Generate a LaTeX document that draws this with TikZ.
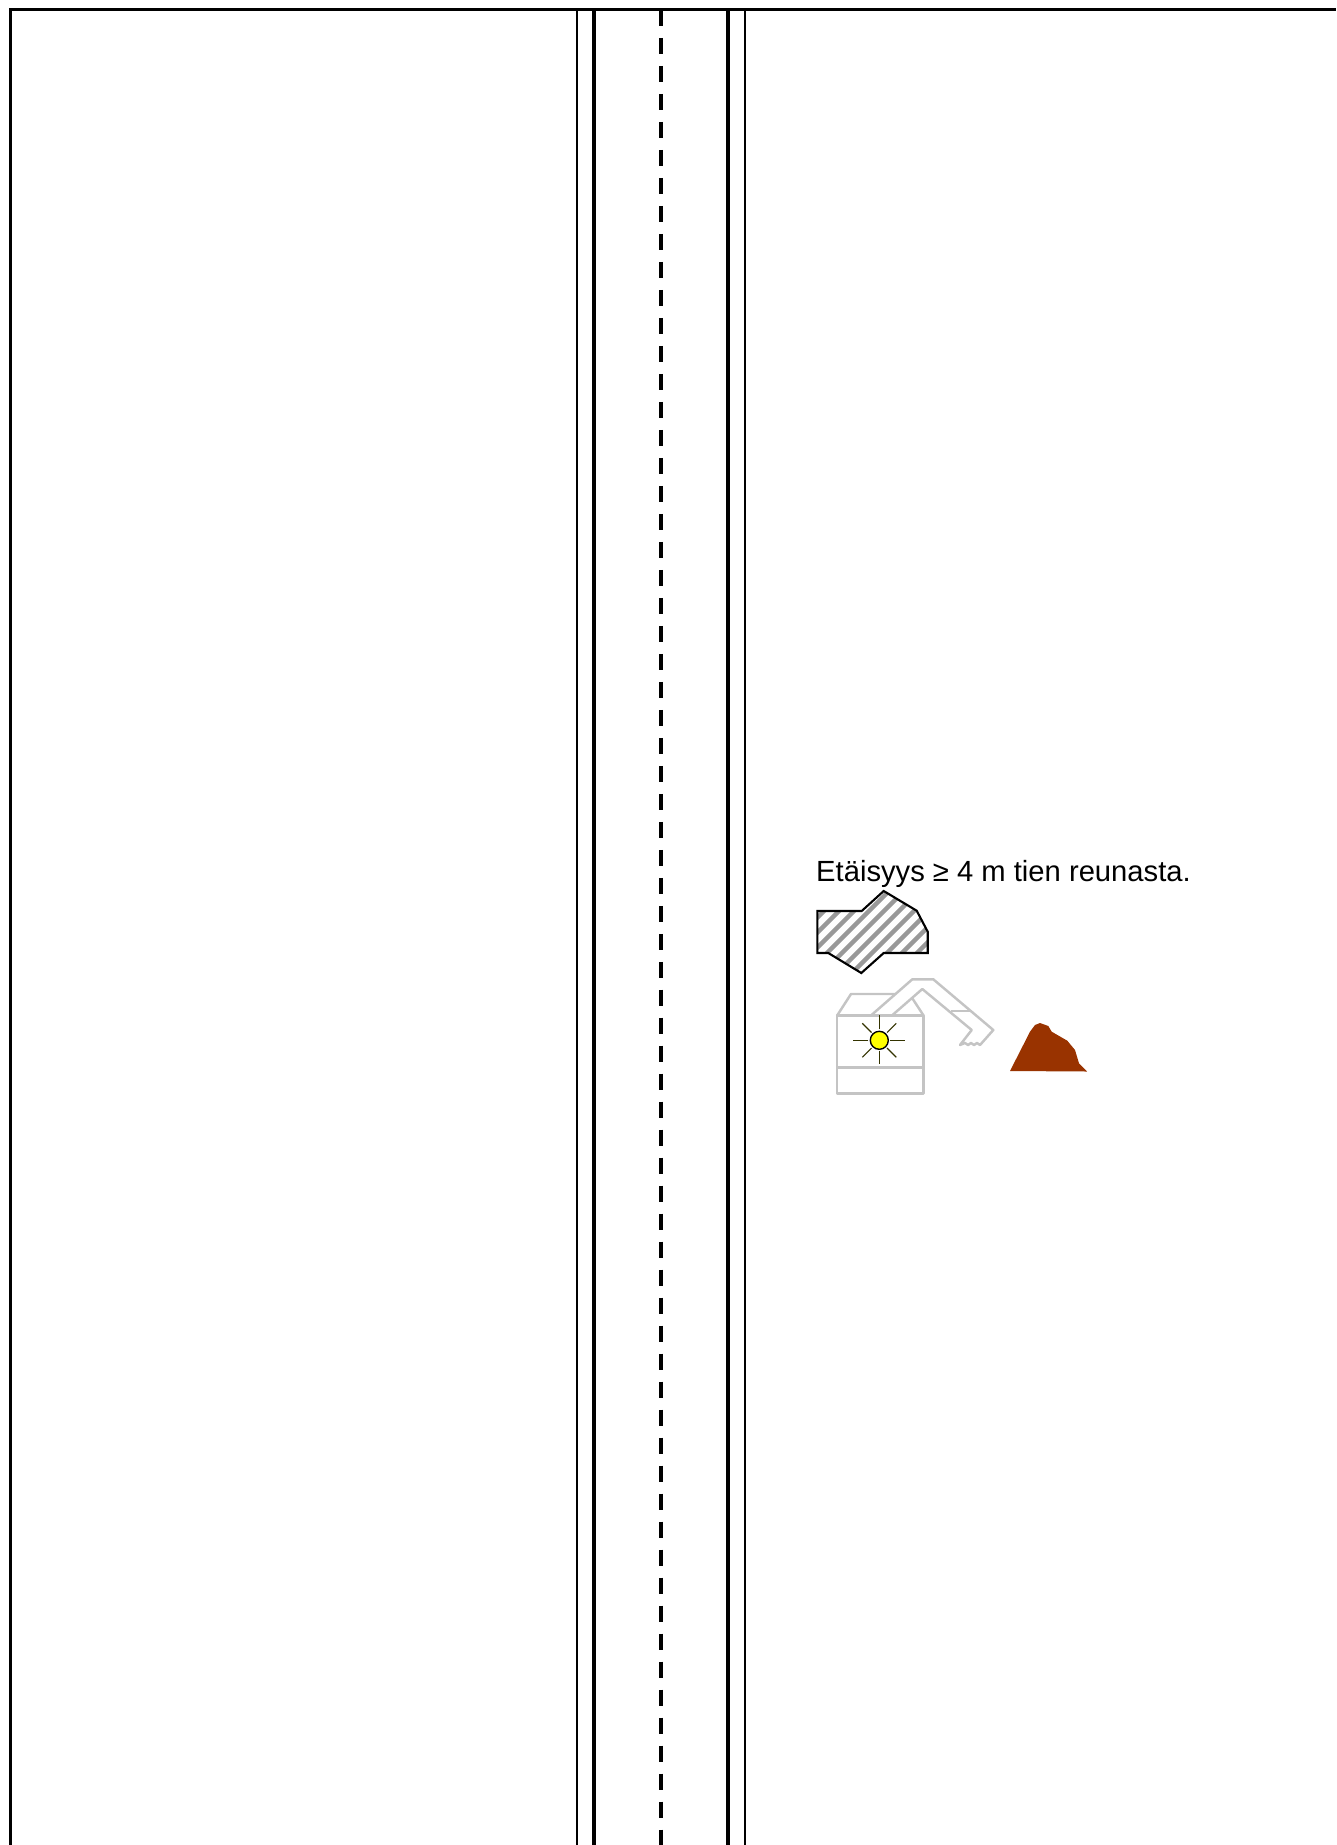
\documentclass[tikz,border=0pt]{standalone}
\usepackage{fontspec}
\setmainfont{Liberation Sans}
\definecolor{rdblack}{HTML}{000000}
\definecolor{hatchgray}{HTML}{999999}
\definecolor{machgray}{HTML}{C4C4C4}
\definecolor{sunyellow}{HTML}{FFFF00}
\definecolor{moundbrown}{HTML}{993300}

\begin{document}
\begin{tikzpicture}[
      x=0.01cm, y=-0.01cm,
      frameline/.style={draw=rdblack, line width=0.6pt},
      thinroad/.style={draw=rdblack, line width=0.55pt},
      thickroad/.style={draw=rdblack, line width=1.05pt},
      midline/.style={draw=rdblack, line width=1.15pt, dash pattern=on 4.55pt off 3.41pt},
      mach/.style={draw=machgray, line width=0.7pt, line join=round},
      ray/.style={draw=black!80!sunyellow, line width=0.35pt},
      distlbl/.style={anchor=base west, inner sep=0pt, font=\fontsize{8.3pt}{10pt}\selectfont}
    ]
    \useasboundingbox (0,0) rectangle (1336,1845);
    % ------------- Road -------------
    \draw[frameline] (10.5,1845) -- (10.5,9.5) -- (1336,9.5);
    \draw[thinroad] (577.3,9.5) -- (577.3,1845);
    \draw[thickroad] (594.3,9.5) -- (594.3,1845);
    \draw[midline] (661,10) -- (661,1845);
    \draw[thickroad] (727.7,9.5) -- (727.7,1845);
    \draw[thinroad] (744.6,9.5) -- (744.6,1845);
    % ------------- Text -------------
    \node[distlbl] (etaisyys) at (815.5,881) {Etäisyys ≥ 4 m tien reunasta.};
    % ------------- Hatched patch -------------
    \begin{scope}
      \clip (817.3,911) -- (861.7,911) -- (883.7,891) -- (916.7,910.7) -- (927.7,931.7)
        -- (927.7,953) -- (883.7,953) -- (861.3,973) -- (828.3,953) -- (817.3,953) -- cycle;
      \foreach \k in {-2,...,10}
        \draw[draw=hatchgray, line width=1.25pt] (770+15*\k,980) -- ++(110,-110);
    \end{scope}
    \draw[frameline, line join=miter] (817.3,911) -- (861.7,911) -- (883.7,891) -- (916.7,910.7) -- (927.7,931.7)
      -- (927.7,953) -- (883.7,953) -- (861.3,973) -- (828.3,953) -- (817.3,953) -- cycle;
    % ------------- Machine -------------
    \draw[mach] (837,1015.7) rectangle (923.7,1093.3);
    \draw[mach] (837,1067.7) -- (923.7,1067.7);
    \draw[mach] (837,1015.7) -- (851,994) -- (895,994);
    \draw[mach] (912.3,998.3) -- (923.7,1015.7);
    \draw[mach] (870.7,1015.7) -- (912.3,979.3) -- (933.3,979.3) -- (993.3,1030) -- (980,1045)
      -- (977,1043) -- (974,1045) -- (971,1043) -- (968,1045) -- (965,1043) -- (960,1045)
      -- (971.7,1030) -- (922.3,989) -- (891.7,1015.7);
    \draw[mach] (951,1011) -- (970,1011);
    % ------------- Sun -------------
    \foreach \a/\r in {0/11,45/9,90/9,135/9,180/11,225/9,270/10,315/9}
      \draw[ray] (879.3,1040.3) ++(\a:11) -- ++(\a:\r+4);
    \node[circle, draw=black, fill=sunyellow, line width=0.4pt, minimum size=0.18cm, inner sep=0pt] (sun) at (879.3,1040.3) {};
    % ------------- Mound -------------
    \fill[moundbrown] (1010,1071) -- (1030,1031.7) -- (1035,1025) -- (1040,1023) -- (1048.3,1026)
      -- (1051.7,1031.7) -- (1067.3,1040.7) -- (1075,1050) -- (1079,1063.3) -- (1087,1071.5) -- cycle;
  \end{tikzpicture}
\end{document}
